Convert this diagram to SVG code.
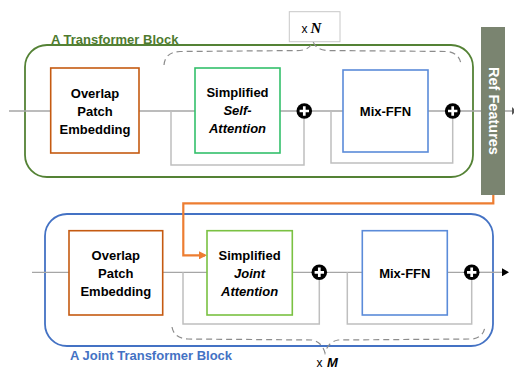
<svg xmlns="http://www.w3.org/2000/svg" width="514" height="369" viewBox="0 0 514 369">
<defs>
<marker id="arrO" markerWidth="8" markerHeight="8" refX="6" refY="4" orient="auto" markerUnits="userSpaceOnUse"><path d="M0,0 L8,4 L0,8 Z" fill="#ED7D31"/></marker>
<marker id="arrK" markerWidth="7" markerHeight="8" refX="6" refY="4" orient="auto" markerUnits="userSpaceOnUse"><path d="M0,0 L7,4 L0,8 Z" fill="#000"/></marker>
<g id="plus"><circle r="7.8" fill="#000"/><path d="M-4.7,0 H4.7 M0,-4.7 V4.7" stroke="#fff" stroke-width="2.7"/></g>
</defs>
<style>
.t{font-family:"Liberation Sans",Arial,sans-serif;font-weight:bold;font-size:13px;fill:#000;text-anchor:middle}
.i{font-style:italic}
.ln{fill:none;stroke:#A6A6A6;stroke-width:1.3}
.fb{fill:none;stroke:#BFBFBF;stroke-width:1.5}
.br{fill:none;stroke:#8C8C8C;stroke-width:1.2;stroke-dasharray:6,4}
.box{fill:#fff;stroke-width:1.6}
</style>
<rect width="514" height="369" fill="#fff"/>

<g id="block1">
<rect x="25" y="45" width="448" height="132" rx="22" fill="none" stroke="#548235" stroke-width="1.8"/>
<text x="51" y="43.5" style="font-family:'Liberation Sans',Arial,sans-serif;font-weight:bold;font-size:13px;fill:#4E7A2E">A Transformer Block</text>
</g>
<g id="block2">
<rect x="45" y="214" width="448" height="132" rx="22" fill="none" stroke="#4472C4" stroke-width="1.8"/>
<text x="70" y="359.5" style="font-family:'Liberation Sans',Arial,sans-serif;font-weight:bold;font-size:13px;fill:#4472C4">A Joint Transformer Block</text>
</g>

<g id="connectors">
<path class="ln" d="M9,111 H51 M139,111 H195 M280,111 H297 M312,111 H343 M428,111 H445 M460,111 H481 M505,111 H512"/>
<path class="fb" d="M171,111 V165 H304 V118.5 M331,111 V163 H452.7 V118.5"/>
<path class="ln" d="M32,272.3 H69 M162.7,272.3 H207 M292.3,272.3 H312 M327,272.3 H362.3 M447.3,272.3 H464"/>
<path class="ln" d="M479,272.3 H508" stroke="#888" marker-end="url(#arrK)"/>
<path class="fb" d="M183,272.3 V324 H319.3 V279.8 M347.3,272.3 V324 H471.7 V279.8"/>
<path d="M493.3,195 V203.3 H183.3 V255.3 H205" fill="none" stroke="#ED7D31" stroke-width="2.2" marker-end="url(#arrO)"/>
<path d="M512,107 L516,111 L512,115 Z" fill="#555"/>
<path class="br" d="M164,65 Q165,52 180,51.5 L300,50.5 Q310,49.5 313,41.5 Q316,49.5 326,50.5 L447,51.5 Q460,53 461,65"/>
<path class="br" d="M172,327 Q174,338.5 188,339 L312,340 Q322,342 325,353 Q328,342 338,340 L472,339 Q484,337.5 485,326"/>
</g>

<g id="ope1">
<rect class="box" x="50.7" y="68" width="88.3" height="85" stroke="#C55A11"/>
<text class="t" x="95" y="98">Overlap</text>
<text class="t" x="95" y="116">Patch</text>
<text class="t" x="95" y="134">Embedding</text>
</g>
<g id="ssa">
<rect class="box" x="195" y="68" width="85" height="85" stroke="#33C06B"/>
<text class="t" x="237.5" y="97">Simplified</text>
<text class="t i" x="237.5" y="115">Self-</text>
<text class="t i" x="237.5" y="133">Attention</text>
</g>
<g id="ffn1">
<rect class="box" x="343" y="70" width="85" height="82" stroke="#5B8BD9"/>
<text class="t" x="385.5" y="116">Mix-FFN</text>
</g>
<use id="plus1" href="#plus" x="304.3" y="111"/>
<use id="plus2" href="#plus" x="452.7" y="111"/>

<g id="xN">
<rect x="289.3" y="11.7" width="50.7" height="30" fill="#fff" stroke="#C8C8C8" stroke-width="1"/>
<text x="301.5" y="33.3" style="font-family:'Liberation Sans',Arial,sans-serif;font-size:12px;fill:#000">x</text>
<text x="310.5" y="33.3" style="font-family:'Liberation Serif','Times New Roman',serif;font-size:15px;font-weight:bold;font-style:italic;fill:#000">N</text>
</g>

<g id="ref">
<rect x="481" y="27" width="24" height="168" fill="#7A8470"/>
<text transform="translate(488.5,111) rotate(90)" style="font-family:'Liberation Sans',Arial,sans-serif;font-weight:bold;font-size:14.5px;fill:#fff;text-anchor:middle">Ref Features</text>
</g>

<g id="ope2">
<rect class="box" x="69" y="230.7" width="93.7" height="84.3" stroke="#C55A11"/>
<text class="t" x="115.8" y="259.5">Overlap</text>
<text class="t" x="115.8" y="277.5">Patch</text>
<text class="t" x="115.8" y="295.5">Embedding</text>
</g>
<g id="sja">
<rect class="box" x="207" y="230.7" width="85.3" height="84.3" stroke="#7AC142"/>
<text class="t" x="249.6" y="259.5">Simplified</text>
<text class="t i" x="249.6" y="277.5">Joint</text>
<text class="t i" x="249.6" y="295.5">Attention</text>
</g>
<g id="ffn2">
<rect class="box" x="362.3" y="230.7" width="85" height="84.3" stroke="#5B8BD9"/>
<text class="t" x="404.8" y="278">Mix-FFN</text>
</g>
<use id="plus3" href="#plus" x="319.3" y="272.3"/>
<use id="plus4" href="#plus" x="471.7" y="272.3"/>

<g id="xM">
<text x="316.5" y="366.5" style="font-family:'Liberation Sans',Arial,sans-serif;font-size:12px;fill:#000">x</text>
<text x="327" y="366.5" style="font-family:'Liberation Sans',Arial,sans-serif;font-size:13px;font-weight:bold;font-style:italic;fill:#000">M</text>
</g>
</svg>
